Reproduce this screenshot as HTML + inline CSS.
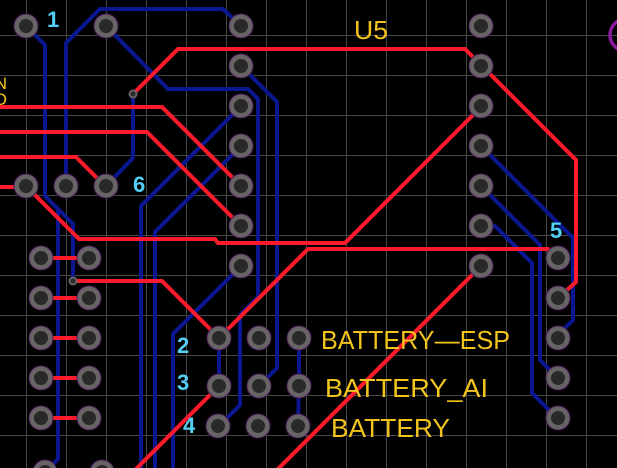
<!DOCTYPE html>
<html><head><meta charset="utf-8"><style>
html,body{margin:0;padding:0;background:#000;}
svg{display:block;}
</style></head><body>
<svg width="617" height="468" viewBox="0 0 617 468" xmlns="http://www.w3.org/2000/svg">
<rect width="617" height="468" fill="#000"/>
<g stroke="#474747" stroke-width="1">
<line x1="26.5" y1="0" x2="26.5" y2="468"/><line x1="66.5" y1="0" x2="66.5" y2="468"/><line x1="106.5" y1="0" x2="106.5" y2="468"/><line x1="146.5" y1="0" x2="146.5" y2="468"/><line x1="186.5" y1="0" x2="186.5" y2="468"/><line x1="226.5" y1="0" x2="226.5" y2="468"/><line x1="266.5" y1="0" x2="266.5" y2="468"/><line x1="306.5" y1="0" x2="306.5" y2="468"/><line x1="346.5" y1="0" x2="346.5" y2="468"/><line x1="386.5" y1="0" x2="386.5" y2="468"/><line x1="426.5" y1="0" x2="426.5" y2="468"/><line x1="466.5" y1="0" x2="466.5" y2="468"/><line x1="506.5" y1="0" x2="506.5" y2="468"/><line x1="546.5" y1="0" x2="546.5" y2="468"/><line x1="586.5" y1="0" x2="586.5" y2="468"/>
<line x1="0" y1="35.5" x2="617" y2="35.5"/><line x1="0" y1="75.5" x2="617" y2="75.5"/><line x1="0" y1="115.5" x2="617" y2="115.5"/><line x1="0" y1="155.5" x2="617" y2="155.5"/><line x1="0" y1="195.5" x2="617" y2="195.5"/><line x1="0" y1="235.5" x2="617" y2="235.5"/><line x1="0" y1="275.5" x2="617" y2="275.5"/><line x1="0" y1="315.5" x2="617" y2="315.5"/><line x1="0" y1="355.5" x2="617" y2="355.5"/><line x1="0" y1="395.5" x2="617" y2="395.5"/><line x1="0" y1="435.5" x2="617" y2="435.5"/>
</g>
<circle cx="626" cy="35" r="16" fill="none" stroke="#8a1a9c" stroke-width="3.5"/>
<!-- blue bottom-layer traces -->
<g fill="none" stroke="#0b1790" stroke-width="4" stroke-linejoin="miter" stroke-linecap="round">
<polyline points="26,26 45,45 45,196 73,224 73,281"/>
<polyline points="45,196 58,209 58,459 45,472"/>
<polyline points="66,186 66,43 100,9 223,9 241,26"/>
<polyline points="106,26 168,89 248,89 258,99 258,297 240,315 240,405 218,427"/>
<polyline points="241,66 277,102 277,368 259,386"/>
<polyline points="241,106 141,206 141,470"/>
<polyline points="241,146 155,232 155,470"/>
<polyline points="241,266 173,334 173,470"/>
<polyline points="133,94 133,158 106,186"/>
<polyline points="219,338 219,386"/>
<polyline points="299,338 299,386 298,426"/>
<polyline points="481,146 573,238 573,320 558,335"/>
<polyline points="481,186 540,245 540,360 558,378"/>
<polyline points="481,226 495,226 532,263 532,393 557,418"/>
</g>
<!-- red top-layer traces -->
<g fill="none" stroke="#ff1a2c" stroke-width="4" stroke-linejoin="miter">
<polyline points="133,94 178,49 465,49 481,65 576,160 576,282 558,298"/>
<polyline points="0,107 162,107 241,186"/>
<polyline points="0,132 147,132 241,226"/>
<polyline points="0,157 76,157 106,187"/>
<polyline points="0,187 26,187"/>
<polyline points="26,186 79,239 215,239 218,243 345,243 481,107"/>
<polyline points="219,338 308,249 548,249 558,258"/>
<polyline points="73,281 162,281 219,338"/>
<polyline points="219,386 135,470"/>
<polyline points="481,266 277,470"/>
<line x1="41" y1="258" x2="89" y2="258"/>
<line x1="41" y1="298" x2="89" y2="298"/>
<line x1="41" y1="338" x2="89" y2="338"/>
<line x1="41" y1="378" x2="89" y2="378"/>
<line x1="41" y1="418" x2="89" y2="418"/>
</g>
<!-- pads -->
<defs>
<g id="pad"><circle r="12" fill="#686466" stroke="#4b1d5c" stroke-width="1"/><circle r="7" fill="#292929"/></g>
</defs>
<g>
<use href="#pad" x="26" y="26"/><use href="#pad" x="106" y="26"/>
<use href="#pad" x="26" y="186"/><use href="#pad" x="66" y="186"/><use href="#pad" x="106" y="186"/>
<use href="#pad" x="241" y="26"/><use href="#pad" x="241" y="66"/><use href="#pad" x="241" y="106"/><use href="#pad" x="241" y="146"/><use href="#pad" x="241" y="186"/><use href="#pad" x="241" y="226"/><use href="#pad" x="241" y="266"/>
<use href="#pad" x="481" y="26"/><use href="#pad" x="481" y="66"/><use href="#pad" x="481" y="106"/><use href="#pad" x="481" y="146"/><use href="#pad" x="481" y="186"/><use href="#pad" x="481" y="226"/><use href="#pad" x="481" y="266"/>
<use href="#pad" x="558" y="258"/><use href="#pad" x="558" y="298"/><use href="#pad" x="558" y="338"/><use href="#pad" x="558" y="378"/><use href="#pad" x="558" y="418"/>
<use href="#pad" x="41" y="258"/><use href="#pad" x="89" y="258"/>
<use href="#pad" x="41" y="298"/><use href="#pad" x="89" y="298"/>
<use href="#pad" x="41" y="338"/><use href="#pad" x="89" y="338"/>
<use href="#pad" x="41" y="378"/><use href="#pad" x="89" y="378"/>
<use href="#pad" x="41" y="418"/><use href="#pad" x="89" y="418"/>
<use href="#pad" x="45" y="472"/><use href="#pad" x="102" y="472"/>
<use href="#pad" x="219" y="338"/><use href="#pad" x="259" y="338"/><use href="#pad" x="299" y="338"/>
<use href="#pad" x="219" y="386"/><use href="#pad" x="259" y="386"/><use href="#pad" x="299" y="386"/>
<use href="#pad" x="218" y="426"/><use href="#pad" x="258" y="426"/><use href="#pad" x="298" y="426"/>
</g>
<!-- vias -->
<circle cx="133" cy="94" r="4.5" fill="#686466"/><circle cx="133" cy="94" r="2.5" fill="#292929"/>
<circle cx="73" cy="281" r="4.5" fill="#686466"/><circle cx="73" cy="281" r="2.5" fill="#292929"/>
<!-- labels -->
<g font-family="'Liberation Sans', sans-serif" font-weight="bold" font-size="22" fill="#52cff2">
<text x="47" y="27">1</text>
<text x="133" y="192">6</text>
<text x="177" y="353">2</text>
<text x="177" y="390">3</text>
<text x="183" y="433">4</text>
<text x="550" y="238">5</text>
</g>
<g font-family="'Liberation Sans', sans-serif" font-size="26" fill="#f3c51c">
<text x="354" y="39" textLength="34" lengthAdjust="spacingAndGlyphs">U5</text>
<text x="321" y="349" textLength="189" lengthAdjust="spacingAndGlyphs">BATTERY—ESP</text>
<text x="325" y="397" textLength="163" lengthAdjust="spacingAndGlyphs">BATTERY_AI</text>
<text x="331" y="437" textLength="119" lengthAdjust="spacingAndGlyphs">BATTERY</text>
<text x="7" y="89" font-size="17" text-anchor="end">N</text>
<text x="7" y="105" font-size="17" text-anchor="end">O</text>
</g>
</svg>
</body></html>
